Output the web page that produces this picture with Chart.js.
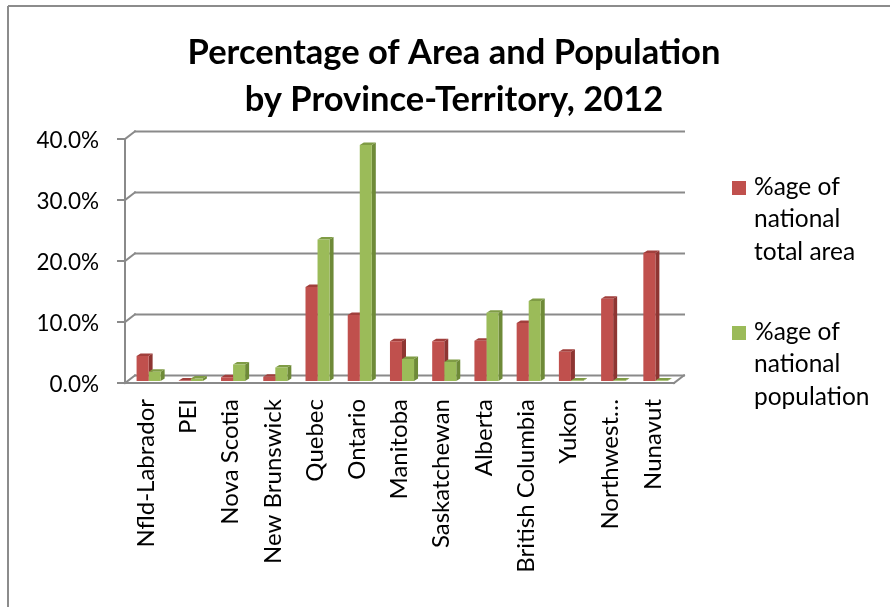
<!DOCTYPE html>
<html><head><meta charset="utf-8">
<script src="https://cdn.jsdelivr.net/npm/chart.js@4/dist/chart.umd.min.js"></script>
<style>html,body{margin:0;padding:0;background:#fff;}#wrap{width:890px;height:607px;position:relative;}</style>
</head><body><div id="wrap"><canvas id="c" width="890" height="607"></canvas></div>
<script>
const categories = ['Nfld-Labrador','PEI','Nova Scotia','New Brunswick','Quebec','Ontario','Manitoba','Saskatchewan','Alberta','British Columbia','Yukon','Northwest…','Nunavut'];
const areaPct = [4.1,0.1,0.6,0.7,15.4,10.8,6.5,6.5,6.6,9.5,4.8,13.5,21.0];
const popPct  = [1.5,0.4,2.7,2.2,23.2,38.7,3.6,3.1,11.2,13.1,0.1,0.1,0.1];
const areaLegend = ['%age of','national','total area'];
const popLegend  = ['%age of','national','population'];
const yTicks = [0,10,20,30,40];
const titleLines = ['Percentage of Area and Population','by Province-Territory, 2012'];

const FONT = 'Lato';
const BX = 10, BY = -7.6;   // back wall depth
const DX = 4, DY = -2.5;    // bar depth
const MX = 2.5, MY = -2;    // bars sit at mid-depth

function line(ctx,x1,y1,x2,y2){ctx.beginPath();ctx.moveTo(x1,y1);ctx.lineTo(x2,y2);ctx.stroke();}

const frame3d = {
  id:'frame3d',
  beforeDraw(chart){
    const ctx=chart.ctx;
    ctx.save();
    ctx.strokeStyle='#8c8c8c'; ctx.lineWidth=2;
    line(ctx,8,6,890,6); line(ctx,8,6,8,607);
    ctx.restore();
  },
  beforeDatasetsDraw(chart){
    const ctx=chart.ctx, a=chart.chartArea, ys=chart.scales.y;
    ctx.save();
    ctx.strokeStyle='#8a8a8a'; ctx.lineWidth=2; ctx.lineCap='square';
    yTicks.forEach(v=>{
      const py=ys.getPixelForValue(v);
      line(ctx,a.left-7,py,a.left,py);
      line(ctx,a.left,py,a.left+BX,py+BY);
      line(ctx,a.left+BX,py+BY,a.right+BX,py+BY);
    });
    const y0=ys.getPixelForValue(0), yT=ys.getPixelForValue(yTicks[yTicks.length-1]);
    line(ctx,a.left,yT,a.left,y0);
    line(ctx,a.left,y0,a.right,y0);
    line(ctx,a.right,y0,a.right+BX,y0+BY);
    ctx.restore();
    ctx.save();
    ctx.translate(MX,MY);
    chart.data.datasets.forEach((ds,i)=>{
      const meta=chart.getDatasetMeta(i);
      meta.data.forEach(bar=>{
        const p=bar.getProps(['x','y','base','width'],true);
        const l=p.x-p.width/2, r=p.x+p.width/2;
        ctx.fillStyle=ds.sideColor;
        ctx.beginPath();ctx.moveTo(r,p.y);ctx.lineTo(r+DX,p.y+DY);ctx.lineTo(r+DX,p.base+DY);ctx.lineTo(r,p.base);ctx.closePath();ctx.fill();
        ctx.fillStyle=ds.topColor;
        ctx.beginPath();ctx.moveTo(l,p.y);ctx.lineTo(l+DX,p.y+DY);ctx.lineTo(r+DX,p.y+DY);ctx.lineTo(r,p.y);ctx.closePath();ctx.fill();
      });
    });
  },
  afterDatasetsDraw(chart){
    chart.ctx.restore();
  },
  afterDraw(chart){
    const ctx=chart.ctx, a=chart.chartArea;
    ctx.save();
    ctx.font='24.5px '+FONT; ctx.textBaseline='middle'; ctx.textAlign='left';
    const entries=[[areaLegend,chart.data.datasets[0].backgroundColor,a.top+48],[popLegend,chart.data.datasets[1].backgroundColor,a.top+193]];
    entries.forEach(([lines,col,y])=>{
      ctx.fillStyle=col; ctx.fillRect(a.right+58,y-6,14,14);
      ctx.fillStyle='#000';
      lines.forEach((t,k)=>ctx.fillText(t,a.right+80,y+k*32.5));
    });
    ctx.restore();
  }
};

new Chart(document.getElementById('c'),{
  type:'bar',
  data:{labels:categories,datasets:[
    {label:areaLegend.join(' '),data:areaPct,backgroundColor:'#C0504D',sideColor:'#8E3532',topColor:'#A13F3C',borderWidth:0,categoryPercentage:0.57,barPercentage:1},
    {label:popLegend.join(' '),data:popPct,backgroundColor:'#9BBB59',sideColor:'#6E8A38',topColor:'#7F9C45',borderWidth:0,categoryPercentage:0.57,barPercentage:1}
  ]},
  options:{
    responsive:false,animation:false,
    layout:{padding:{left:18,right:0,top:0,bottom:0}},
    plugins:{
      legend:{display:false},tooltip:{enabled:false},
      title:{display:true,text:titleLines,color:'#000',font:{family:FONT,size:34.5,weight:'bold',lineHeight:'47px'},padding:{top:29,bottom:16}}
    },
    scales:{
      x:{grid:{display:false,drawTicks:false},border:{display:false},
         ticks:{color:'#000',font:{family:FONT,size:24},minRotation:90,maxRotation:90,padding:16,autoSkip:false},
         afterFit(s){s.height=224;}},
      y:{min:0,max:40,grid:{display:false,drawTicks:false},border:{display:false},
         ticks:{color:'#000',font:{family:FONT,size:22.5},stepSize:10,padding:26,labelOffset:2,callback:v=>v.toFixed(1)+'%'},
         afterFit(s){s.width=107;}},
      yRight:{position:'right',min:0,max:40,grid:{display:false,drawTicks:false},border:{display:false},
         ticks:{display:false},afterFit(s){s.width=216;}}
    }
  },
  plugins:[frame3d]
});
</script></body></html>
